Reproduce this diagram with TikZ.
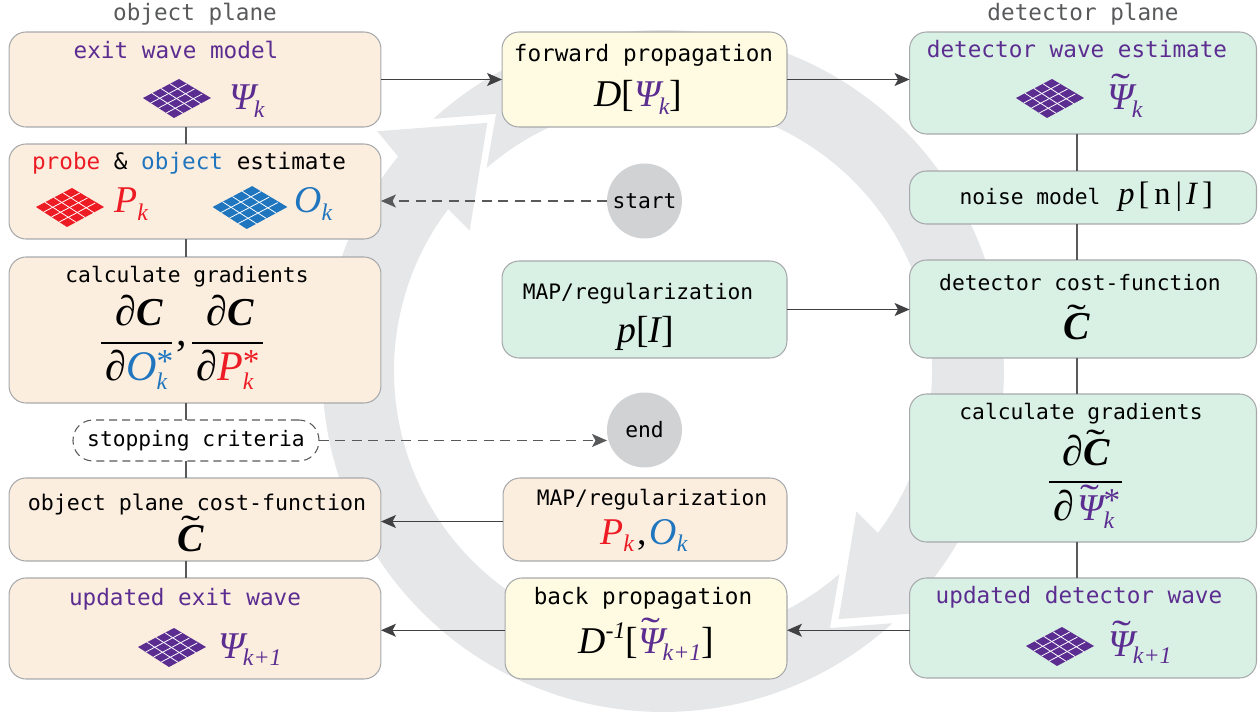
\documentclass[tikz,border=0pt]{standalone}
\usepackage{fontspec}
\usepackage{amsmath,graphicx}
\usetikzlibrary{arrows.meta}
\setmonofont{DejaVu Sans Mono}
\newfontfamily\serifmath{Liberation Serif}

\definecolor{objpeach}{HTML}{FCEEDF}
\definecolor{propyellow}{HTML}{FEFBE2}
\definecolor{detgreen}{HTML}{D9F0E4}
\definecolor{ringgray}{HTML}{E6E7E8}
\definecolor{discgray}{HTML}{D1D2D4}
\definecolor{edgegray}{HTML}{A7A9AC}
\definecolor{linegray}{HTML}{58595B}
\definecolor{tipgray}{HTML}{414042}
\definecolor{wavepurple}{HTML}{5C2D91}
\definecolor{probered}{HTML}{ED1C24}
\definecolor{objblue}{HTML}{1F75BE}

% math pieces are set by hand in the serif font
\newcommand{\bigit}[1]{{\fontsize{21.5}{24}\selectfont\serifmath\itshape #1}}
\newcommand{\hugeit}[1]{{\fontsize{24}{26}\selectfont\serifmath\itshape #1}}
\newcommand{\bigup}[1]{{\fontsize{21.5}{24}\selectfont\serifmath #1}}
\newcommand{\hugeup}[1]{{\fontsize{24}{26}\selectfont\serifmath #1}}
\newcommand{\boldc}{{\fontsize{22.5}{26}\selectfont\serifmath\bfseries\itshape C}}
\newcommand{\subit}[1]{\raisebox{-.15cm}{\fontsize{13.6}{15}\selectfont\serifmath\itshape #1}}
\newcommand{\tld}[1]{\setbox0=\hbox{#1}\rlap{\hbox to\wd0{\hss\raisebox{.2cm}{\scalebox{1.5}[1]{\fontsize{21.5}{24}\selectfont\serifmath\symbol{"02DC}}}\hss}}\box0}
\newcommand{\supstar}{\raisebox{.17cm}{\fontsize{19}{20}\selectfont\serifmath *}}

\tikzset{
  flowbox/.style={draw=edgegray, line width=.6pt, rounded corners=.34cm, inner sep=0pt, outer sep=0pt},
  lab/.style={anchor=base, inner sep=0pt, font=\fontsize{12.9}{15}\selectfont\ttfamily},
  labsm/.style={anchor=base, inner sep=0pt, font=\fontsize{12.1}{15}\selectfont\ttfamily},
  mth/.style={anchor=base west, inner sep=0pt},
  joinline/.style={draw=linegray, line width=.6pt},
  flow/.style={draw=tipgray, line width=.7pt, -{Stealth[length=.3cm, width=.26cm, inset=.07cm]}},
  dashflow/.style={flow, draw=linegray, tips=true, dash pattern=on .2cm off .13cm},
  disc/.style={circle, fill=discgray, minimum size=1.5cm, inner sep=0pt, outer sep=0pt},
  fracbar/.style={draw=black, line width=1pt},
  gridicon/.pic={
    \fill[#1] (-34,0) -- (2,-19) -- (34,0) -- (-3,20) -- cycle;
    \foreach \i in {1,2,3} {
      \draw[white, line width=.45pt] ({-34+\i*9},{-\i*4.75}) -- ++(31,20);
      \draw[white, line width=.45pt] ({-34+\i*7.75},{\i*5}) -- ++(36,-19);
    }
  }
}

\begin{document}
\begin{tikzpicture}[x=.02cm, y=-.02cm]
\useasboundingbox (0,0) rectangle (1260,712);

% grey ring, two arrows turned by half a circle
\foreach \rot in {0,180} {
  \begin{scope}[shift={(663,371)}, x=.02cm, y=.02cm, rotate=\rot]
    \fill[ringgray] (132.3:341) arc[start angle=132.3, end angle=-39, radius=6.82cm]
      -- (-40:373) -- (-54.7:304) -- (-36:239) -- (-37:269)
      arc[start angle=-37, end angle=131, radius=5.38cm]
      -- (123:306.5) -- cycle;
  \end{scope}
}

% left column
\node[flowbox, fill=objpeach, minimum width=7.44cm, minimum height=1.9cm] (exit) at (195,79.5) {};
\node[flowbox, fill=objpeach, minimum width=7.44cm, minimum height=1.9cm] (estimate) at (195,191.5) {};
\node[flowbox, fill=objpeach, minimum width=7.44cm, minimum height=2.92cm] (gradobj) at (195,330) {};
\node[flowbox, fill=white, dash pattern=on .16cm off .1cm, draw=linegray, rounded corners=.4cm, minimum width=4.92cm, minimum height=.82cm, font=\fontsize{12.1}{15}\selectfont\ttfamily] (stop) at (196,440.5) {stopping criteria};
\node[flowbox, fill=objpeach, minimum width=7.44cm, minimum height=1.66cm] (costobj) at (195,519.5) {};
\node[flowbox, fill=objpeach, minimum width=7.44cm, minimum height=2.02cm] (updexit) at (195,628.5) {};

% middle column
\node[flowbox, fill=propyellow, minimum width=5.7cm, minimum height=1.9cm] (forward) at (644.5,79.5) {};
\node[disc, font=\fontsize{12.1}{15}\selectfont\ttfamily] (start) at (644.5,201) {start};
\node[flowbox, fill=detgreen, minimum width=5.7cm, minimum height=1.94cm] (mapdet) at (644.5,309.5) {};
\node[disc, font=\fontsize{12.1}{15}\selectfont\ttfamily] (end) at (644.5,430) {end};
\node[flowbox, fill=objpeach, minimum width=5.68cm, minimum height=1.66cm] (mapobj) at (645,519.5) {};
\node[flowbox, fill=propyellow, minimum width=5.64cm, minimum height=2.02cm] (back) at (646,628.5) {};

% right column
\node[flowbox, fill=detgreen, minimum width=6.94cm, minimum height=2.04cm] (wave) at (1083,83) {};
\node[flowbox, fill=detgreen, minimum width=6.94cm, minimum height=1.06cm] (noise) at (1083,197.5) {};
\node[flowbox, fill=detgreen, minimum width=6.94cm, minimum height=1.96cm] (costdet) at (1083,309) {};
\node[flowbox, fill=detgreen, minimum width=6.94cm, minimum height=2.96cm] (graddet) at (1083,468) {};
\node[flowbox, fill=detgreen, minimum width=6.94cm, minimum height=2cm] (upddet) at (1083,628) {};

% plain joins
\coordinate (leftx) at (186,0);
\coordinate (rightx) at (1077,0);
\foreach \a/\b in {exit/estimate, estimate/gradobj, gradobj/stop, stop/costobj, costobj/updexit}
  \draw[joinline] (leftx |- \a.south) -- (leftx |- \b.north);
\foreach \a/\b in {wave/noise, noise/costdet, costdet/graddet, graddet/upddet}
  \draw[joinline] (rightx |- \a.south) -- (rightx |- \b.north);

% arrows
\draw[flow] (exit.east) -- (forward.west);
\draw[flow] (forward.east) -- (forward.east -| wave.west);
\draw[flow] (mapdet.east) -- (mapdet.east -| costdet.west);
\draw[flow] ([yshift=-.04cm]mapobj.west) -- ([yshift=-.04cm]mapobj.west -| costobj.east);
\draw[flow] ([yshift=-.035cm]back.west) -- ([yshift=-.035cm]back.west -| updexit.east);
\draw[flow] ([yshift=-.045cm]upddet.west) -- ([yshift=-.045cm]upddet.west -| back.east);
\draw[dashflow] (start.west) -- (start.west -| estimate.east);
\draw[dashflow] (stop.east) -- (stop.east -| end.west);

% headings
\node[lab, text=linegray] (objhead) at (195,21) {object plane};
\node[lab, text=linegray] (dethead) at (1083,21) {detector plane};

% exit wave model
\node[lab, text=wavepurple] (exittxt) at (176,59) {exit wave model};
\pic (iconexit) at (177,98) {gridicon=wavepurple};
\node[mth, text=wavepurple] (exitsym) at (229,110) {\bigit{Ψ}\kern-.04cm\subit{k}};

% probe and object estimate
\node[lab] (esttxt) at (189,170) {\textcolor{probered}{probe} \& \textcolor{objblue}{object} estimate};
\pic (iconprobe) at (70,207) {gridicon=probered};
\node[mth, text=probered] (probesym) at (114,213) {\bigit{P}\subit{k}};
\pic[scale=1.1] (iconobj) at (250,207) {gridicon=objblue};
\node[mth, text=objblue] (objsym) at (294,213) {\bigit{O}\subit{k}};

% gradients on the object side
\node[labsm] (gradtxt) at (187,283) {calculate gradients};
\node[mth] (numobj) at (115,326) {\hugeit{∂}\boldc};
\draw[fracbar] (101,343) -- (172,343);
\node[mth] (denobj) at (105,381) {\hugeit{∂}\textcolor{objblue}{\hugeit{O}\rlap{\raisebox{-.03cm}{\subit{k}}}\supstar}};
\node[mth] (commaobj) at (176,346) {\hugeup{,}};
\node[mth] (numprobe) at (206,326) {\hugeit{∂}\boldc};
\draw[fracbar] (192,343) -- (263,343);
\node[mth] (denprobe) at (196,381) {\hugeit{∂}\textcolor{probered}{\hugeit{P}\rlap{\raisebox{-.03cm}{\subit{k}}}\supstar}};

% object plane cost
\node[labsm, font=\fontsize{12.3}{15}\selectfont\ttfamily] (costobjtxt) at (197,510) {object plane cost-function};
\node[mth] (costobjsym) at (177,551) {\tld{\boldc}};

% updated exit wave
\node[lab, text=wavepurple] (updexittxt) at (185,605) {updated exit wave};
\pic (iconupd) at (172,647) {gridicon=wavepurple};
\node[mth, text=wavepurple] (updexitsym) at (218,658) {\bigit{Ψ}\kern-.04cm\subit{k+1}};

% forward propagation
\node[lab] (fwdtxt) at (643.5,62) {forward propagation};
\node[mth] (fwdsym) at (594,107) {\bigit{D}\bigup{[}\textcolor{wavepurple}{\bigit{Ψ}\kern-.04cm\subit{k}}\bigup{]}};

% regularization boxes
\node[labsm] (mapdettxt) at (638,300) {MAP/regularization};
\node[mth] (mapdetsym) at (617,343) {\bigit{p}\bigup{[}\bigit{I}\bigup{]}};
\node[labsm] (mapobjtxt) at (652,505) {MAP/regularization};
\node[mth] (mapobjsym) at (600,544) {\textcolor{probered}{\bigit{P}\subit{k}}\kern.06cm\bigup{,}\kern.06cm\textcolor{objblue}{\bigit{O}\subit{k}}};

% back propagation
\node[lab] (backtxt) at (643,604) {back propagation};
\node[mth] (backsym) at (578,653) {\bigit{D}\raisebox{.3cm}{\fontsize{13.6}{15}\selectfont\serifmath\itshape -1}\bigup{[}\textcolor{wavepurple}{\tld{\bigit{Ψ}}\kern-.04cm\subit{k+1}}\bigup{]}};

% detector wave estimate
\node[lab, text=wavepurple] (wavetxt) at (1077,58) {detector wave estimate};
\pic (iconwave) at (1050,98) {gridicon=wavepurple};
\node[mth, text=wavepurple] (wavesym) at (1107,110) {\tld{\bigit{Ψ}}\kern-.04cm\subit{k}};

% noise model
\node[labsm] (noisetxt) at (1030,205) {noise model};
\node[mth] (noisesym) at (1118,205) {\fontsize{18.5}{20}\selectfont\serifmath{\itshape p}\kern.08cm[\kern.1cm n\kern.1cm|\kern.08cm{\itshape I}\kern.1cm]};

% detector cost
\node[labsm] (costdettxt) at (1080,291) {detector cost-function};
\node[mth] (costdetsym) at (1063,340) {\tld{\boldc}};

% gradients on the detector side
\node[labsm] (graddettxt) at (1081,419) {calculate gradients};
\node[mth] (numdet) at (1062,465) {\hugeit{∂}\tld{\boldc}};
\draw[fracbar] (1049,482) -- (1122,482);
\node[mth] (dendet) at (1053,520) {\hugeit{∂}\,\textcolor{wavepurple}{\tld{\bigit{Ψ}}\rlap{\raisebox{-.03cm}{\subit{k}}}\supstar}};

% updated detector wave
\node[lab, text=wavepurple] (upddettxt) at (1079,603) {updated detector wave};
\pic (iconupddet) at (1060,646) {gridicon=wavepurple};
\node[mth, text=wavepurple] (upddetsym) at (1108,656) {\tld{\bigit{Ψ}}\kern-.04cm\subit{k+1}};
\end{tikzpicture}
\end{document}
